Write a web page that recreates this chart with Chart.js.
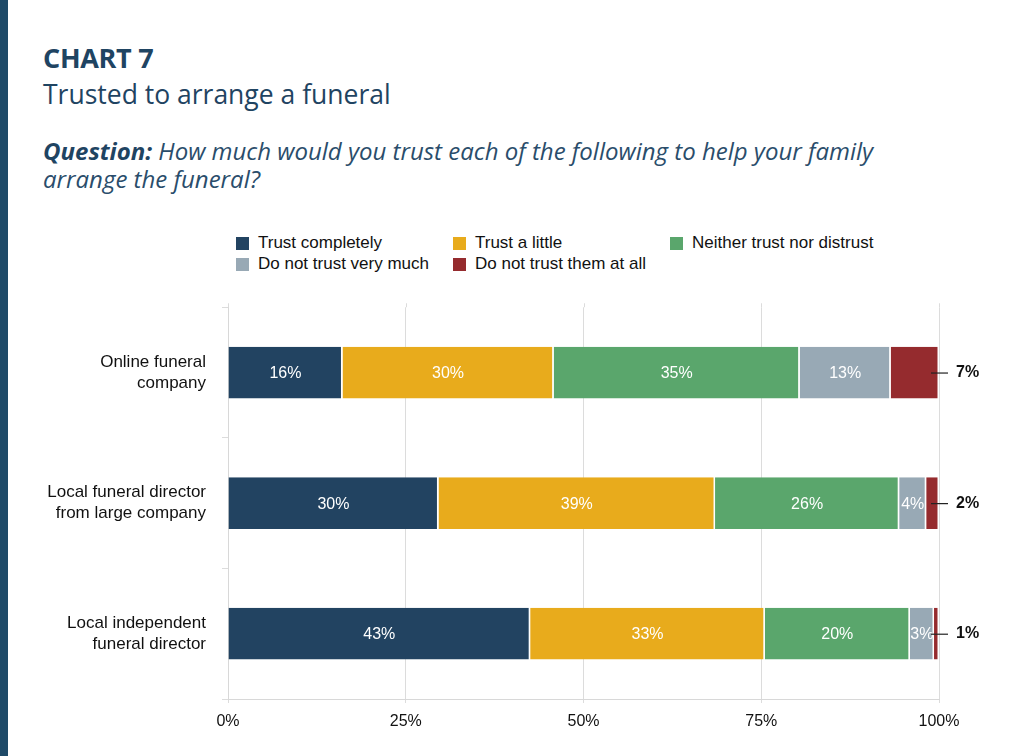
<!DOCTYPE html>
<html>
<head>
<meta charset="utf-8">
<script src="https://cdn.jsdelivr.net/npm/chart.js@4/dist/chart.umd.min.js"></script>
<style>
  html, body { margin: 0; padding: 0; background: #fff; }
  body { width: 1010px; height: 756px; position: relative; overflow: hidden; }
  .side { position: absolute; left: 0; top: 0; width: 8px; height: 756px; background: #1f4a68; }
  .hd { position: absolute; left: 43px; font-family: "Open Sans", sans-serif; color: #1f4462; white-space: nowrap; }
  .kicker { top: 40px; font-weight: 700; font-size: 27px; line-height: 36px; letter-spacing: -0.3px; }
  .title { top: 77px; font-size: 26.5px; line-height: 34px; }
  .question { top: 137px; font-style: italic; font-size: 24px; line-height: 28px; color: #2a4d6b; }
  .question b { font-weight: 700; color: #1f4462; }
  #legend { position: absolute; left: 236px; top: 233px; font-family: "Liberation Sans", Arial, sans-serif;
            font-size: 17px; color: #111; display: grid; grid-template-columns: 217px 217px 240px; row-gap: 1px; }
  #legend .it { display: flex; align-items: center; height: 20px; white-space: nowrap; }
  #legend .sw { width: 13px; height: 13px; margin-right: 9px; flex: none; }
  .wrap { position: absolute; left: 0; top: 270px; width: 1010px; height: 470px; }
</style>
</head>
<body>
<div class="side"></div>
<div class="hd kicker">CHART 7</div>
<div class="hd title">Trusted to arrange a funeral</div>
<div class="hd question"><b>Question:</b> How much would you trust each of the following to help your family<br>arrange the funeral?</div>
<div id="legend"></div>
<div class="wrap"><canvas id="c" width="1010" height="470"></canvas></div>
<script>
// Categories (each label split over two lines)
const categories = [
  ["Online funeral", "company"],
  ["Local funeral director", "from large company"],
  ["Local independent", "funeral director"]
];
// Response options, in stacking order
const seriesNames = ["Trust completely", "Trust a little", "Neither trust nor distrust",
                     "Do not trust very much", "Do not trust them at all"];
const seriesColors = ["#224361", "#e8ab1c", "#5aa66c", "#98a9b5", "#952b2e"];
// Share of respondents (%), per category
const trustCompletely   = [16.1, 29.6, 42.5];
const trustALittle      = [29.7, 38.9, 33.0];
const neither           = [34.6, 25.9, 20.4];
const notVeryMuch       = [12.8, 3.8, 3.4];
const notAtAll          = [6.8, 1.8, 0.7];
const xTicks = [0, 25, 50, 75, 100];

const seriesValues = [trustCompletely, trustALittle, neither, notVeryMuch, notAtAll];
const FONT = "'Liberation Sans', Arial, Helvetica, sans-serif";

// HTML legend laid out in fixed columns
const leg = document.getElementById('legend');
seriesNames.forEach((n, i) => {
  const d = document.createElement('div');
  d.className = 'it';
  d.innerHTML = '<span class="sw" style="background:' + seriesColors[i] + '"></span>' + n;
  leg.appendChild(d);
});

// Vertical grid lines run a few pixels above the plot area
const gridCap = {
  id: 'gridCap',
  beforeDatasetsDraw(chart) {
    const { ctx, chartArea, scales } = chart;
    ctx.save();
    ctx.strokeStyle = '#dcdcdc';
    ctx.lineWidth = 1;
    scales.x.ticks.forEach(t => {
      const x = Math.round(scales.x.getPixelForValue(t.value)) + 0.5;
      ctx.beginPath();
      ctx.moveTo(x, chartArea.top - 4);
      ctx.lineTo(x, chartArea.top);
      ctx.stroke();
    });
    ctx.restore();
  }
};

// Segment labels: white inside bars, last segment called out on the right
const segmentLabels = {
  id: 'segmentLabels',
  afterDatasetsDraw(chart) {
    const ctx = chart.ctx;
    ctx.save();
    const last = chart.data.datasets.length - 1;
    chart.data.datasets.forEach((ds, di) => {
      const meta = chart.getDatasetMeta(di);
      meta.data.forEach((bar, i) => {
        const txt = Math.round(ds.data[i]) + '%';
        if (di === last) {
          ctx.strokeStyle = '#222';
          ctx.lineWidth = 1.2;
          ctx.beginPath();
          ctx.moveTo(bar.x - 8, bar.y + 0.5);
          ctx.lineTo(bar.x + 9, bar.y + 0.5);
          ctx.stroke();
          ctx.fillStyle = '#111';
          ctx.font = 'bold 16px ' + FONT;
          ctx.textAlign = 'left';
          ctx.textBaseline = 'middle';
          ctx.fillText(txt, bar.x + 17, bar.y);
        } else {
          ctx.fillStyle = '#fff';
          ctx.font = '16px ' + FONT;
          ctx.textAlign = 'center';
          ctx.textBaseline = 'middle';
          ctx.fillText(txt, (bar.x + bar.base) / 2, bar.y + 1);
        }
      });
    });
    ctx.restore();
  }
};

new Chart(document.getElementById('c'), {
  type: 'bar',
  data: {
    labels: categories,
    datasets: seriesNames.map((n, i) => ({
      label: n,
      data: seriesValues[i],
      backgroundColor: seriesColors[i],
      borderColor: '#ffffff',
      borderWidth: { left: 0, right: 1.5, top: 0, bottom: 0 },
      borderSkipped: false,
      barPercentage: 0.8,
      categoryPercentage: 0.495
    }))
  },
  options: {
    indexAxis: 'y',
    responsive: false,
    animation: false,
    layout: { padding: { top: 3.5, right: 71, bottom: 0, left: 0 } },
    plugins: { legend: { display: false }, tooltip: { enabled: false } },
    scales: {
      x: {
        stacked: true,
        min: 0, max: 100,
        afterBuildTicks(axis) { axis.ticks = xTicks.map(v => ({ value: v })); },
        afterFit(axis) { axis.height = 41; },
        grid: { color: '#dcdcdc', lineWidth: 1, tickLength: 4, drawTicks: true },
        border: { display: true, color: '#d8d8d8' },
        ticks: { color: '#111', padding: 9, font: { family: FONT, size: 16 }, callback: v => v + '%' }
      },
      y: {
        stacked: true,
        afterFit(axis) { axis.width = 228; },
        grid: { drawOnChartArea: false, color: '#dcdcdc', tickLength: 6 },
        border: { display: true, color: '#d8d8d8' },
        ticks: { color: '#111', padding: 16, font: { family: FONT, size: 17, lineHeight: 1.25 } }
      }
    }
  },
  plugins: [gridCap, segmentLabels]
});
</script>
</body>
</html>
